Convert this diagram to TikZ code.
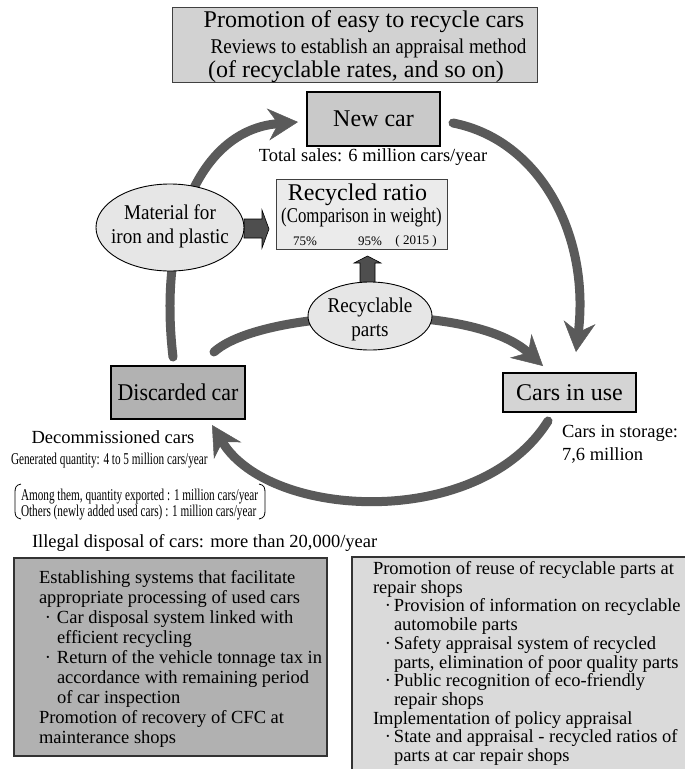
\documentclass[tikz,border=0pt]{standalone}
\usepackage{fontspec}
\setmainfont{Liberation Serif}
\newfontfamily\condA[FakeStretch=0.91]{Liberation Serif}
\newfontfamily\condB[FakeStretch=0.8]{Liberation Serif}
\newfontfamily\condC[FakeStretch=0.68]{Liberation Serif}
\usetikzlibrary{arrows.meta,shapes.geometric,calc}
\pgfdeclarelayer{bg}
\pgfsetlayers{bg,main}
\definecolor{flowgray}{HTML}{5A5A5A}
\definecolor{blockgray}{HTML}{4E4E4E}
\definecolor{topfill}{HTML}{D2D2D2}
\definecolor{newcarfill}{HTML}{C9C9C9}
\definecolor{ratiofill}{HTML}{EBEBEB}
\definecolor{ellfill}{HTML}{E6E6E6}
\definecolor{discfill}{HTML}{B2B2B2}
\definecolor{usefill}{HTML}{D4D4D4}
\definecolor{leftfill}{HTML}{B1B1B1}
\definecolor{rightfill}{HTML}{DADADA}
\newcommand{\fsz}[2]{\fontsize{#1}{#2}\selectfont}
\begin{document}
\begin{tikzpicture}[x=1pt,y=-1pt,
  every node/.style={inner sep=0pt, outer sep=0pt},
  heavybox/.style={draw=black, line width=1.6pt, rectangle},
  thinbox/.style={draw=black!75, line width=0.9pt, rectangle},
  infobox/.style={draw=black!80, line width=1.2pt, rectangle},
  bubble/.style={ellipse, draw=black, line width=0.9pt, fill=ellfill},
  flow/.style={draw=flowgray, line width=9pt, line cap=round,
    -{Stealth[length=30pt,width=32pt,inset=10pt,line width=0.5pt]}},
  blockarrow/.style={fill=blockgray, draw=black, line width=0.6pt},
  bracketline/.style={draw=black, line width=0.8pt},
  bigtext/.style={font=\fsz{24}{28}},
  midtext/.style={font=\fsz{18.5}{22}},
  smalltext/.style={font=\condC\fsz{16.5}{18}},
  bodytext/.style={align=left, anchor=north west}
]
\useasboundingbox (0,0) rectangle (685,769);

% top box
\node[thinbox, fill=topfill, minimum width=365, minimum height=75] (topbox) at (354.5,44.5) {};
\node[bigtext] (t1) at (364,22) {Promotion of easy to recycle cars};
\node[font=\condA\fsz{21}{24}] (t2) at (368.5,48.5) {Reviews to establish an appraisal method};
\node[bigtext] (t3) at (356,72) {(of recyclable rates, and so on)};

% main nodes
\node[heavybox, fill=newcarfill, minimum width=133, minimum height=54, bigtext] (newcar) at (373.5,119) {New car};
\node[midtext] (sales) at (373,157) {Total sales: 6 million cars/year};

\node[thinbox, fill=ratiofill, minimum width=171, minimum height=70] (ratio) at (361.5,214) {};
\node[bigtext] (ratio1) at (357.5,195) {Recycled ratio};
\node[font=\condB\fsz{21}{24}] (ratio2) at (361.5,217) {(Comparison in weight)};
\node[font=\fsz{13}{15}] (p75) at (305,241) {75\%};
\node[font=\fsz{13}{15}] (p95) at (370,241) {95\%};
\node[font=\fsz{13}{15}] (y2015) at (416,241) {( 2015 )};

\node[bubble, minimum width=148, minimum height=87] (mat) at (170,227.5) {};
\node[font=\condA\fsz{21}{24}, align=center] (mattext) at (170,226) {Material for\\iron and plastic};
\node[bubble, minimum width=124, minimum height=68] (rec) at (370,316) {};
\node[font=\condA\fsz{21}{24}, align=center] (rectext) at (370,319) {Recyclable\\parts};

\node[heavybox, fill=discfill, minimum width=134, minimum height=53, font=\condA\fsz{24}{28}] (disc) at (178,392.5) {Discarded car};
\node[heavybox, fill=usefill, minimum width=133, minimum height=39, bigtext] (use) at (569.5,392.5) {Cars in use};

% texts around
\node[midtext] (decom) at (113,437) {Decommissioned cars};
\node[smalltext, anchor=west] (genq) at (11,461) {Generated quantity: 4 to 5 million cars/year};
\node[smalltext, anchor=west] (among) at (21,497) {Among them, quantity exported : 1 million cars/year};
\node[smalltext, anchor=west] (others) at (21,513) {Others (newly added used cars) : 1 million cars/year};
\draw[bracketline] (21,484) .. controls (15.5,485) and (15,488) .. (15,493) -- (15,510) .. controls (15,515) and (15.5,518) .. (21,519);
\draw[bracketline] (259,484) .. controls (264.5,485) and (265,488) .. (265,493) -- (265,510) .. controls (265,515) and (264.5,518) .. (259,519);
\node[midtext, anchor=west] (illegal) at (32,543) {Illegal disposal of cars: more than 20,000/year};
\node[midtext, anchor=west] (storage1) at (562,433) {Cars in storage:};
\node[midtext, anchor=west] (storage2) at (562,455) {7,6 million};

% bottom boxes
\node[infobox, fill=leftfill, minimum width=313, minimum height=198] (leftbox) at (170.5,657) {};
\node[bodytext, font=\fsz{18.5}{20}] (lefttext) at (39,570.5) {Establishing systems that facilitate\\
appropriate processing of used cars\\
\makebox[18pt][c]{·}Car disposal system linked with\\
\hspace*{18pt}efficient recycling\\
\makebox[18pt][c]{·}Return of the vehicle tonnage tax in\\
\hspace*{18pt}accordance with remaining period\\
\hspace*{18pt}of car inspection\\
Promotion of recovery of CFC at\\
mainterance shops};

\node[infobox, fill=rightfill, minimum width=350, minimum height=225, anchor=north west] (rightbox) at (352,557) {};
\node[bodytext, font=\fsz{18.5}{18.7}] (righttext) at (373,561.5) {Promotion of reuse of recyclable parts at\\
repair shops\\
\makebox[21pt][r]{·\hspace{3pt}}Provision of information on recyclable\\
\hspace*{21pt}automobile parts\\
\makebox[21pt][r]{·\hspace{3pt}}Safety appraisal system of recycled\\
\hspace*{21pt}parts, elimination of poor quality parts\\
\makebox[21pt][r]{·\hspace{3pt}}Public recognition of eco-friendly\\
\hspace*{21pt}repair shops\\
Implementation of policy appraisal\\
\makebox[21pt][r]{·\hspace{3pt}}State and appraisal - recycled ratios of\\
\hspace*{21pt}parts at car repair shops};

% connectors
\begin{pgfonlayer}{bg}
\draw[flow] ($(disc.north)+(-5,-9)$) .. controls (158,230) and (200,130) .. ($(newcar.west)+(-9,3)$);
\draw[flow] ($(newcar.east)+(13,4)$) .. controls (540,140) and (590,235) .. ($(use.north)+(6.5,-21)$);
\draw[flow] ($(disc.north)+(36,-14)$) .. controls (260,310) and (470,300) .. ($(use.north)+(-26.5,-7)$);
\draw[flow] ($(use.south)+(-21.5,9)$) .. controls (480,530) and (270,520) .. ($(disc.south)+(34,6)$);
\draw[blockarrow] (mat.east |- 0,219) -- (262,219) -- (262,210) -- (269,229) -- (262,248) -- (262,238) -- (mat.east |- 0,238) -- cycle;
\draw[blockarrow] (360,284) -- (360,263) -- (354,263) -- (367.5,256) -- (381,263) -- (375,263) -- (375,284) -- cycle;
\end{pgfonlayer}
\end{tikzpicture}
\end{document}
